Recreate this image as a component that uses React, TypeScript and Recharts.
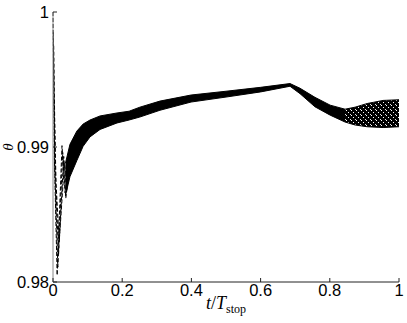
import { ComposedChart, Area, Line, XAxis, YAxis, Label } from 'recharts';

// band envelope of the oscillating theta(t) trace
const tVals = [0.036, 0.049, 0.069, 0.087, 0.107, 0.136, 0.185, 0.22, 0.251, 0.309, 0.399, 0.5, 0.6, 0.685, 0.714, 0.757, 0.801, 0.844, 0.873, 0.908, 0.954, 1.0];
const bandLow = [0.9864, 0.9878, 0.9890, 0.99005, 0.99075, 0.99130, 0.99178, 0.99200, 0.99222, 0.99272, 0.99333, 0.99370, 0.99408, 0.99450, 0.99395, 0.99298, 0.99236, 0.99185, 0.99163, 0.99150, 0.99144, 0.99150];
const bandHigh = [0.9888, 0.99020, 0.99118, 0.99170, 0.99200, 0.99230, 0.99252, 0.99265, 0.99295, 0.99340, 0.99385, 0.99413, 0.99442, 0.99470, 0.99435, 0.99368, 0.99310, 0.99280, 0.99295, 0.99322, 0.99345, 0.99350];
const speckFrom = 0.844;

// early transient, a few overlapping traces
const early1T = [0, 0.004, 0.012, 0.026, 0.035, 0.045];
const early1 = [1.0, 0.9892, 0.9805, 0.9901, 0.9866, 0.9885];
const early2T = [0.001, 0.005, 0.014, 0.028, 0.037, 0.05];
const early2 = [0.9985, 0.9886, 0.9811, 0.9896, 0.9862, 0.989];
const early3T = [0.002, 0.007, 0.016, 0.031, 0.039, 0.055];
const early3 = [0.9975, 0.9880, 0.9820, 0.9893, 0.9868, 0.9896];
const early4T = [0.003, 0.009, 0.018, 0.033, 0.042];
const early4 = [0.9935, 0.9872, 0.9830, 0.9888, 0.9872];

const xTicks = [0, 0.2, 0.4, 0.6, 0.8, 1];
const xTickLabels = ['0', '0.2', '0.4', '0.6', '0.8', '1'];
const yTicks = [0.98, 0.99, 1];
const yTickLabels = ['0.98', '0.99', '1'];

const bandData = tVals.map((t, i) => ({
  t,
  solid: t <= speckFrom ? [bandLow[i], bandHigh[i]] : null,
  speck: t >= speckFrom ? [bandLow[i], bandHigh[i]] : null,
}));
const toPts = (ts: number[], vs: number[]) => ts.map((t, i) => ({ t, v: vs[i] }));

const font = 'Liberation Sans, Arial, Helvetica, sans-serif';

const BottomTick = (props: any) => {
  const { x, y, payload } = props;
  return (
    <g>
      <line x1={x} x2={x} y1={y - 3} y2={y - 7} stroke="#222" />
      <text x={x} y={y + 11} textAnchor="middle" fontSize={16.5} fontFamily={font} fill="#000">
        {xTickLabels[xTicks.indexOf(payload.value)]}
      </text>
    </g>
  );
};

const LeftTick = (props: any) => {
  const { x, y, payload } = props;
  return (
    <g>
      <line x1={x + 4} x2={x + 8} y1={y} y2={y} stroke="#222" />
      <text x={x} y={y + 6} textAnchor="end" fontSize={16.5} fontFamily={font} fill="#000">
        {yTickLabels[yTicks.indexOf(payload.value)]}
      </text>
    </g>
  );
};

const TopTick = (props: any) => {
  const { x, y } = props;
  return <line x1={x} x2={x} y1={y} y2={y + 4} stroke="#222" />;
};

const RightTick = (props: any) => {
  const { x, y } = props;
  return <line x1={x} x2={x - 4} y1={y} y2={y} stroke="#222" />;
};

const XTitle = ({ viewBox }: any) => {
  const cx = viewBox.x + viewBox.width / 2;
  const by = viewBox.y + 27;
  return (
    <text x={cx} y={by} textAnchor="middle" fontFamily="Liberation Serif, serif" fontSize={18} fill="#000">
      <tspan fontStyle="italic">t</tspan>
      <tspan>/</tspan>
      <tspan fontStyle="italic">T</tspan>
      <tspan fontSize={12} dy={4}>stop</tspan>
    </text>
  );
};

const YTitle = ({ viewBox }: any) => {
  const cx = viewBox.x + 13;
  const cy = viewBox.y + viewBox.height / 2;
  return (
    <text x={cx} y={cy} transform={`rotate(-90 ${cx} ${cy})`} textAnchor="middle" fontFamily="Liberation Serif, serif" fontStyle="italic" fontSize={15} fill="#000">
      θ
    </text>
  );
};

const lineStyle = { stroke: '#000', strokeWidth: 1, strokeDasharray: '4 2' };

export default function App() {
  return (
    <div style={{ position: 'absolute', left: 0, top: 0, width: 407, height: 323, background: '#fff' }}>
      <ComposedChart width={407} height={323} data={bandData} margin={{ top: 12, right: 8, bottom: 16, left: 0 }}>
        <defs>
          <pattern id="speck" width="5" height="5" patternUnits="userSpaceOnUse">
            <rect width="5" height="5" fill="#000" />
            <rect x="1" y="0" width="1" height="1" fill="#fff" />
            <rect x="3" y="2" width="1" height="1" fill="#fff" />
            <rect x="0" y="4" width="1" height="1" fill="#ddd" />
          </pattern>
        </defs>
        <XAxis
          xAxisId="b"
          dataKey="t"
          type="number"
          domain={[0, 1]}
          ticks={xTicks}
          orientation="bottom"
          height={25}
          tickSize={0}
          tickMargin={3}
          tickLine={false}
          axisLine={{ stroke: '#222' }}
          tick={<BottomTick />}
          interval={0}
        >
          <Label content={<XTitle />} />
        </XAxis>
        <XAxis
          xAxisId="top"
          type="number"
          domain={[0, 1]}
          ticks={xTicks}
          orientation="top"
          height={0}
          tickSize={0}
          tickMargin={0}
          tickLine={false}
          axisLine={{ stroke: '#888' }}
          tick={<TopTick />}
          interval={0}
        />
        <YAxis
          yAxisId="l"
          type="number"
          domain={[0.98, 1]}
          ticks={yTicks}
          width={53}
          tickSize={0}
          tickMargin={4}
          tickLine={false}
          axisLine={{ stroke: '#888' }}
          tick={<LeftTick />}
          interval={0}
        >
          <Label content={<YTitle />} />
        </YAxis>
        <YAxis
          yAxisId="r"
          type="number"
          orientation="right"
          domain={[0.98, 1]}
          ticks={yTicks}
          width={0}
          tickSize={0}
          tickMargin={0}
          tickLine={false}
          axisLine={{ stroke: '#222' }}
          tick={<RightTick />}
          interval={0}
        />
        <Area xAxisId="b" yAxisId="l" dataKey="solid" type="linear" stroke="#000" strokeWidth={1} fill="#000" fillOpacity={1} isAnimationActive={false} dot={false} activeDot={false} />
        <Area xAxisId="b" yAxisId="l" dataKey="speck" type="linear" stroke="#000" strokeWidth={1} fill="url(#speck)" fillOpacity={1} isAnimationActive={false} dot={false} activeDot={false} />
        <Line xAxisId="b" yAxisId="l" data={toPts(early1T, early1)} dataKey="v" type="linear" {...lineStyle} dot={false} activeDot={false} isAnimationActive={false} />
        <Line xAxisId="b" yAxisId="l" data={toPts(early2T, early2)} dataKey="v" type="linear" {...lineStyle} dot={false} activeDot={false} isAnimationActive={false} />
        <Line xAxisId="b" yAxisId="l" data={toPts(early3T, early3)} dataKey="v" type="linear" {...lineStyle} dot={false} activeDot={false} isAnimationActive={false} />
        <Line xAxisId="b" yAxisId="l" data={toPts(early4T, early4)} dataKey="v" type="linear" {...lineStyle} dot={false} activeDot={false} isAnimationActive={false} />
      </ComposedChart>
    </div>
  );
}
